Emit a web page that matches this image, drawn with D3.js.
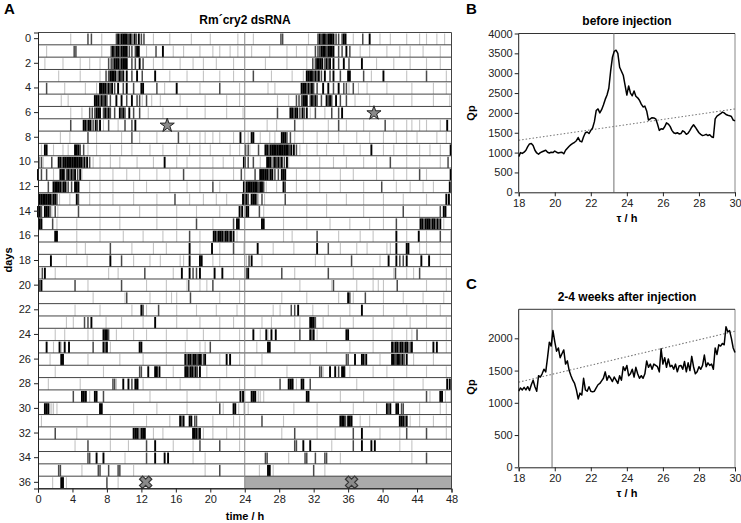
<!DOCTYPE html>
<html><head><meta charset="utf-8">
<script src="https://cdn.jsdelivr.net/npm/d3@7/dist/d3.min.js"></script>
<style>body{margin:0;background:#fff}svg{display:block;font-family:"Liberation Sans",Arial,sans-serif}</style>
</head><body><svg id="c" width="741" height="523"></svg>
<script>
// ---------- DATA ----------
const dayLabels = d3.range(0, 37, 2);
const hourTicks = d3.range(0, 49, 4);
// activity per day: [hour, level] (3 = black, 2 = dark grey, 1 = light grey)
const activity = [
 [[3.8,1],[5.8,2],[6.2,2],[7.4,1],[9.1,2],[9.3,3],[9.5,2],[9.7,3],[9.9,3],[10.1,3],[10.3,3],[10.5,2],[10.7,3],[10.9,2],[11.2,3],[11.4,2],[11.7,3],[12.0,2],[12.3,2],[13.4,1],[15.3,1],[17.8,1],[20.0,1],[23.2,1]],
 [[1.0,1],[4.2,2],[4.4,2],[7.4,1],[8.5,2],[8.7,3],[8.9,2],[9.1,3],[9.3,3],[9.5,2],[9.7,3],[9.9,3],[10.1,3],[10.3,3],[10.6,2],[10.9,2],[11.3,2],[11.5,3],[11.7,3],[12.6,1],[13.7,2],[14.5,3],[15.7,1],[16.9,1],[18.8,1],[20.3,1],[21.1,1],[22.3,1],[23.2,1]],
 [[0.8,1],[2.9,1],[4.9,1],[6.0,1],[7.2,1],[8.2,2],[8.5,2],[8.7,2],[8.9,3],[9.1,3],[9.3,3],[9.5,2],[9.7,3],[9.9,3],[10.1,3],[10.3,3],[10.9,2],[11.3,2],[11.8,3],[12.2,2],[13.4,1],[14.5,1],[16.5,1],[18.0,1],[19.2,1],[20.7,1],[22.7,1]],
 [[2.4,1],[4.9,1],[7.2,1],[7.9,2],[8.2,2],[8.4,3],[8.6,3],[8.8,3],[9.0,3],[9.3,2],[9.5,3],[9.7,2],[9.9,3],[10.3,3],[10.9,2],[11.5,3],[12.1,2],[13.6,3],[15.3,1],[17.3,1],[19.2,1],[21.1,1],[22.7,1]],
 [[1.0,2],[3.1,1],[5.5,1],[6.8,1],[7.2,3],[7.4,3],[7.6,3],[7.8,3],[8.0,2],[8.2,3],[8.4,2],[8.6,3],[8.9,2],[9.3,3],[9.9,2],[10.3,3],[11.1,2],[12.0,3],[12.2,3],[13.8,2],[14.7,1],[16.1,3],[18.8,1],[21.1,2],[23.4,1]],
 [[2.7,1],[3.5,1],[6.6,3],[6.8,3],[7.0,3],[7.2,2],[7.4,3],[7.6,2],[7.8,3],[8.0,2],[8.4,2],[9.1,3],[9.7,3],[10.3,2],[10.9,3],[11.5,2],[11.8,2],[12.1,1],[12.6,2],[13.2,1],[14.2,1],[16.5,1],[19.4,1],[21.9,1],[23.4,1]],
 [[3.8,1],[5.1,1],[6.0,2],[6.3,2],[6.6,2],[6.8,3],[7.0,3],[7.2,3],[7.6,2],[7.8,3],[8.0,2],[8.2,3],[8.4,2],[8.9,2],[9.5,3],[9.7,2],[9.9,3],[10.1,2],[10.6,3],[11.1,2],[11.8,2],[12.8,1],[14.5,1],[17.3,1],[19.4,1],[21.9,1],[23.8,1]],
 [[3.8,2],[5.3,3],[5.5,3],[5.7,2],[5.9,3],[6.1,3],[6.4,2],[6.7,3],[6.9,2],[7.2,3],[7.6,1],[8.2,2],[9.3,1],[10.1,2],[10.9,2],[11.3,3]],
 [[2.6,1],[3.7,1],[5.8,2],[6.8,1],[9.7,1],[10.9,2],[11.8,1],[13.8,1],[16.3,2],[17.3,1],[18.8,1],[19.4,1],[20.3,1],[21.1,1],[22.7,1],[23.5,3]],
 [[0.4,1],[0.8,3],[1.0,3],[1.8,1],[2.9,1],[3.5,1],[4.3,3],[4.5,3],[4.7,3],[4.9,2],[5.3,2],[5.8,1],[6.8,1],[8.4,1],[9.7,1],[10.9,1],[13.0,1],[14.5,1],[16.1,1],[17.6,1],[18.8,1],[20.0,1],[22.3,1],[23.4,1]],
 [[0.1,2],[0.4,2],[0.6,1],[1.6,2],[2.4,3],[2.6,3],[2.8,2],[3.0,3],[3.2,3],[3.4,3],[3.6,3],[3.8,3],[4.0,3],[4.2,3],[4.4,3],[4.6,3],[4.8,3],[5.0,3],[5.2,2],[5.4,3],[5.7,3],[6.0,2],[6.4,1],[7.2,1],[8.4,1],[9.5,1],[11.5,1],[13.4,1],[14.7,3],[16.1,1],[17.3,1],[18.8,1],[20.3,1],[21.5,1],[22.7,1],[23.9,3]],
 [[0.0,3],[0.4,2],[1.0,2],[1.8,1],[2.6,3],[2.8,3],[3.0,3],[3.3,2],[3.5,3],[3.7,2],[3.9,3],[4.1,2],[4.3,3],[4.6,2],[4.9,3],[5.1,1],[7.2,1],[8.7,1],[10.3,1],[11.8,1],[13.8,1],[15.3,1],[16.9,2],[18.8,1],[20.3,1],[22.7,1],[23.6,2]],
 [[1.2,2],[1.8,3],[2.0,3],[2.2,3],[2.4,3],[2.6,3],[2.8,2],[3.0,3],[3.2,3],[3.5,2],[3.9,2],[4.3,3],[4.5,3],[4.7,3],[6.0,1],[7.2,1],[8.7,1],[11.1,1],[12.6,1],[15.3,1],[17.3,1],[18.8,1],[20.3,2],[21.1,1],[23.9,3]],
 [[0.2,3],[0.4,3],[0.6,3],[0.8,3],[1.0,3],[1.2,3],[1.4,3],[1.6,2],[1.8,3],[2.0,3],[2.2,2],[2.5,1],[3.7,1],[4.5,3],[4.7,2],[6.0,1],[7.2,1],[8.7,1],[11.1,1],[13.8,1],[15.9,2],[17.6,1],[19.2,1],[20.7,1],[21.9,1],[23.8,3]],
 [[0.0,3],[0.2,3],[0.4,2],[0.8,3],[1.0,3],[1.2,3],[1.4,2],[1.6,1],[2.0,2],[2.3,1],[4.7,2],[7.2,1],[9.5,1],[11.8,1],[13.8,1],[16.1,1],[18.4,1],[21.1,1],[23.4,3],[23.7,3]],
 [[0.2,3],[0.4,3],[1.7,2],[2.2,1],[4.5,1],[7.2,1],[9.5,1],[13.8,1],[16.1,1],[18.4,2],[20.3,1],[22.7,2],[23.1,3],[23.3,3]],
 [[2.0,3],[2.2,3],[4.5,1],[7.2,1],[9.9,1],[12.2,1],[14.5,1],[16.1,1],[17.6,2],[18.8,1],[20.4,3],[20.6,3],[20.8,2],[21.0,3],[21.2,3],[21.4,3],[21.6,2],[21.8,3],[22.0,3],[22.2,2],[22.4,3],[22.7,3],[23.1,1]],
 [[4.5,1],[5.5,1],[8.4,2],[10.9,1],[13.4,1],[14.9,1],[17.6,3],[18.8,1],[20.2,3],[21.1,1],[22.7,2],[23.9,1]],
 [[1.5,3],[3.3,1],[5.7,1],[8.4,3],[9.7,2],[11.1,1],[13.0,1],[14.2,1],[16.5,1],[16.9,1],[17.6,3],[18.8,3],[19.0,3],[20.3,1],[21.1,1],[22.7,1]],
 [[0.2,1],[0.5,2],[0.8,3],[2.0,1],[8.2,1],[9.3,1],[12.4,2],[15.7,1],[16.7,3],[17.6,3],[18.0,2],[18.4,2],[18.8,3],[20.5,3],[21.4,3],[22.7,1]],
 [[0.2,2],[0.4,3],[4.3,2],[5.8,1],[9.7,2],[12.6,1],[14.9,1],[17.3,1],[17.5,2],[18.8,1],[19.6,1],[20.3,2],[23.4,1]],
 [[6.4,1],[10.1,1],[10.3,2],[13.0,1],[14.9,1],[15.5,1],[16.1,1],[17.7,2],[21.1,1],[23.4,1]],
 [[4.3,1],[7.2,1],[10.9,1],[12.0,3],[12.2,2],[12.6,1],[14.0,2],[16.1,1],[18.4,1],[20.7,1],[23.1,1]],
 [[3.3,1],[4.1,1],[5.4,2],[5.8,2],[6.2,3],[7.9,1],[9.7,1],[12.2,1],[13.6,3],[16.1,1],[18.8,1],[21.1,1],[22.7,1]],
 [[2.0,1],[3.1,1],[5.8,1],[6.4,1],[7.6,3],[7.8,3],[8.0,3],[8.2,2],[9.1,1],[11.1,1],[12.6,1],[14.9,1],[17.3,1],[19.2,1],[21.1,1],[23.4,1]],
 [[1.0,3],[1.8,1],[2.5,3],[2.7,1],[3.1,3],[3.6,3],[6.4,2],[7.6,3],[7.8,2],[8.0,3],[8.4,1],[11.8,3],[12.0,3],[14.9,1],[17.1,1],[18.8,1],[19.4,1],[20.0,2],[23.4,1]],
 [[1.4,1],[2.7,3],[2.9,3],[5.8,1],[9.5,1],[12.2,1],[14.9,1],[17.1,3],[17.3,2],[17.5,3],[17.7,3],[17.9,2],[18.1,3],[18.3,3],[18.5,2],[18.7,3],[18.9,3],[19.2,2],[19.4,3],[21.1,1],[21.9,3],[22.3,3],[23.4,1]],
 [[2.0,1],[7.6,1],[11.8,2],[12.0,2],[12.8,3],[13.6,3],[13.8,3],[14.1,3],[15.7,1],[17.1,3],[17.3,3],[17.5,2],[17.7,3],[17.9,3],[18.1,2],[18.3,3],[18.5,2],[18.8,3],[19.6,1],[21.9,1]],
 [[1.2,1],[4.9,1],[8.7,2],[8.9,2],[9.1,1],[9.9,3],[10.5,3],[10.9,2],[11.3,3],[11.5,3],[11.6,2],[12.2,1],[14.9,1],[16.5,1],[18.8,1],[21.1,1],[23.4,1]],
 [[4.1,2],[5.1,3],[5.3,3],[5.5,3],[5.6,2],[6.0,1],[6.6,3],[6.8,3],[7.6,2],[13.0,1],[17.3,1],[20.7,1],[23.5,3],[23.8,3]],
 [[0.8,3],[1.0,3],[1.2,3],[1.4,1],[1.6,1],[1.8,1],[2.2,1],[7.2,3],[7.4,3],[11.1,1],[13.8,1],[17.3,1],[21.1,2],[21.5,1],[22.7,3],[22.9,3],[23.3,1],[23.9,1]],
 [[0.4,1],[5.7,1],[8.4,1],[12.6,1],[15.3,1],[16.5,3],[16.7,2],[16.9,3],[17.6,3],[17.8,3],[18.2,2],[18.4,2],[20.3,1],[22.7,1],[23.4,1]],
 [[2.0,2],[4.5,1],[8.4,1],[11.1,3],[11.3,3],[11.5,3],[11.7,2],[12.0,3],[12.2,3],[12.4,3],[13.4,1],[14.5,1],[18.0,3],[18.2,3],[18.4,3],[18.6,2],[18.8,3],[19.2,1],[20.3,1],[21.9,1],[23.4,1]],
 [[4.3,1],[5.8,2],[8.4,1],[10.5,1],[12.6,2],[13.6,3],[15.7,1],[18.0,1],[18.8,2],[21.1,2],[23.4,1]],
 [[5.8,2],[6.0,2],[6.8,3],[7.6,3],[10.1,1],[12.6,2],[13.6,3],[14.7,3],[15.1,3],[18.0,1],[19.4,1]],
 [[2.4,2],[2.6,2],[5.1,1],[7.0,2],[7.2,2],[8.2,2],[9.3,2],[9.5,2],[11.1,1],[19.4,1],[21.1,2]],
 [[1.7,1],[2.7,3],[2.9,3],[3.3,1],[8.0,2],[9.3,1]]
];
const stars = [[7, 15.0], [6, 39.0]];      // [row, hour]
const crosses = [[36, 12.5], [36, 36.4]];  // [row, hour]

const tauTicks = d3.range(18, 31, 2);
const qpB = [900,1000,980,1010,1060,1150,1220,1230,1180,1060,990,960,1000,1020,1040,1060,1010,990,1010,1000,
 1040,1010,990,1000,1010,970,1060,1110,1160,1200,1230,1260,1300,1380,1290,1270,1400,1500,1520,1480,
 1560,1620,1780,2060,2100,2000,2080,2200,2340,2450,2620,3050,3400,3550,3580,3500,3150,3050,2950,2700,
 2450,2680,2500,2430,2550,2420,2380,2320,2220,2150,2170,2050,1820,1850,1880,1870,1850,1720,1560,1600,
 1590,1650,1750,1720,1660,1560,1500,1480,1500,1470,1480,1550,1520,1460,1490,1560,1640,1700,1640,1570,
 1500,1460,1430,1440,1460,1430,1450,1400,1380,1850,1920,1950,1980,2020,2000,1960,1940,1930,1910,1820,1800];
const qpC = [1180,1230,1200,1240,1200,1250,1190,1280,1350,1250,1180,1420,1400,1450,1520,1480,1700,1940,1880,2120,
 1950,1800,1850,1700,1760,1820,1600,1650,1500,1420,1350,1300,1200,1060,1150,1120,1380,1200,1180,1250,
 1180,1170,1180,1230,1280,1300,1340,1380,1480,1350,1420,1380,1330,1400,1350,1300,1420,1350,1560,1500,
 1580,1420,1450,1520,1400,1550,1450,1380,1420,1380,1450,1650,1550,1600,1520,1600,1580,1560,1480,1840,
 1600,1700,1550,1680,1560,1580,1520,1600,1480,1570,1580,1520,1640,1480,1620,1500,1720,1560,1450,1480,
 1560,1520,1580,1740,1560,1620,1580,1600,1520,1850,1750,1900,1880,1920,1900,2180,2100,2120,2000,1850,1780];
const taus = d3.range(121).map(i => 18 + i * 0.1);
const peakB = 23.28, peakC = 19.85;
const trendB = [[18, 1310], [30, 2100]];
const trendC = [[18, 1320], [30, 2110]];
const qpTicksB = d3.range(0, 4001, 500);
const qpTicksC = d3.range(0, 2001, 500);

// ---------- DRAW ----------
const svg = d3.select("#c");
const FS = 11;
const FONT = "Liberation Sans, Arial, sans-serif";

// Panel A
const x = d3.scaleLinear().domain([0, 48]).range([38, 451.5]);
const y = d3.scaleBand().domain(d3.range(37)).range([32.5, 488.5]);
const bw = y.bandwidth();
const levelColor = {3: "#000", 2: "#4a4a4a", 1: "#c4c4c4"};
const levelWidth = {3: 1.9, 2: 1.5, 1: 1.1};
const A = svg.append("g");

// gray no-data block
A.append("rect").attr("x", x(24)).attr("y", y(36)).attr("width", x(48) - x(24)).attr("height", bw).attr("fill", "#aaa");

const bars = [];
d3.range(37).forEach(r => {
  activity[r].forEach(([h, l]) => bars.push({r, h, l}));
  if (r + 1 < activity.length) activity[r + 1].forEach(([h, l]) => bars.push({r, h: h + 24, l}));
});
bars.sort((a, b) => a.l - b.l);
A.selectAll("rect.bar").data(bars).join("rect").attr("class", "bar")
  .attr("x", d => x(d.h) - levelWidth[d.l] / 2).attr("width", d => levelWidth[d.l])
  .attr("y", d => y(d.r) + 1).attr("height", bw - 1)
  .attr("fill", d => levelColor[d.l]);

// row lines
A.selectAll("line.row").data(d3.range(38)).join("line")
  .attr("x1", x(0)).attr("x2", x(48))
  .attr("y1", d => d < 37 ? y(d) : y(36) + bw).attr("y2", d => d < 37 ? y(d) : y(36) + bw)
  .attr("stroke", "#444").attr("stroke-width", 1);
A.append("line").attr("x1", x(24)).attr("x2", x(24)).attr("y1", y(0)).attr("y2", y(36) + bw)
  .attr("stroke", "#888").attr("stroke-width", 1);
A.append("line").attr("x1", x(48)).attr("x2", x(48)).attr("y1", y(0)).attr("y2", y(36) + bw)
  .attr("stroke", "#444").attr("stroke-width", 1);

// symbols
A.selectAll("path.star").data(stars).join("path")
  .attr("d", d3.symbol(d3.symbolStar, 62))
  .attr("transform", d => `translate(${x(d[1])},${y(d[0]) + bw / 2 + 0.5})`)
  .attr("fill", "#8a8a8a").attr("stroke", "#222").attr("stroke-width", 1);
A.selectAll("path.cross").data(crosses).join("path")
  .attr("d", d3.symbol(d3.symbolCross, 95))
  .attr("transform", d => `translate(${x(d[1])},${y(d[0]) + bw / 2}) rotate(45)`)
  .attr("fill", "#8a8a8a").attr("stroke", "#333").attr("stroke-width", 1.2);

// axes A
const axA = A.append("g").attr("transform", `translate(0,${y(36) + bw})`)
  .call(d3.axisBottom(x).tickValues(hourTicks).tickSizeOuter(0).tickSize(4).tickPadding(3));
const ayA = A.append("g").attr("transform", `translate(${x(0)},0)`)
  .call(d3.axisLeft(y).tickValues(dayLabels).tickSizeOuter(0).tickSize(4).tickPadding(3));
[axA, ayA].forEach(g => {
  g.selectAll("text").attr("font-size", FS).attr("fill", "#222").attr("font-family", FONT);
  g.select(".domain").attr("stroke", "#222");
  g.selectAll(".tick line").attr("stroke", "#222");
});
A.append("text").attr("x", 245).attr("y", 24).attr("text-anchor", "middle").attr("font-weight", "bold").attr("font-size", 12).text("Rm´cry2 dsRNA");
A.append("text").attr("x", 4).attr("y", 14).attr("font-weight", "bold").attr("font-size", 15).text("A");
A.append("text").attr("transform", "translate(12,260) rotate(-90)").attr("text-anchor", "middle").attr("font-weight", "bold").attr("font-size", 11).text("days");
A.append("text").attr("x", 245).attr("y", 520).attr("text-anchor", "middle").attr("font-weight", "bold").attr("font-size", 11).text("time / h");

// Periodogram panels
function periodogram(cfg) {
  const g = svg.append("g");
  const px = d3.scaleLinear().domain([18, 30]).range([518.7, 735]);
  const py = d3.scaleLinear().domain(cfg.ydom).range([cfg.y0, cfg.y1]);
  g.append("line").attr("x1", px(30)).attr("x2", px(30)).attr("y1", cfg.y1).attr("y2", cfg.y0).attr("stroke", "#888");
  g.append("line").attr("x1", px(18)).attr("x2", px(30)).attr("y1", cfg.y1).attr("y2", cfg.y1).attr("stroke", "#333");
  g.append("line").attr("x1", px(cfg.peak)).attr("x2", px(cfg.peak)).attr("y1", cfg.y1).attr("y2", cfg.y0).attr("stroke", "#888").attr("stroke-width", 1.2);
  g.append("path").datum(cfg.trend).attr("d", d3.line().x(d => px(d[0])).y(d => py(d[1])))
    .attr("fill", "none").attr("stroke", "#777").attr("stroke-width", 1.1).attr("stroke-dasharray", "1.5,2");
  g.append("path").datum(cfg.values).attr("d", d3.line().x((d, i) => px(taus[i])).y(d => py(d)))
    .attr("fill", "none").attr("stroke", "#000").attr("stroke-width", 1.5).attr("stroke-linejoin", "round");
  const ax = g.append("g").attr("transform", `translate(0,${cfg.y0})`)
    .call(d3.axisBottom(px).tickValues(tauTicks).tickSizeOuter(0).tickSize(4).tickPadding(3));
  const ay = g.append("g").attr("transform", `translate(${px(18)},0)`)
    .call(d3.axisLeft(py).tickValues(cfg.ticks).tickFormat(d3.format("d")).tickSizeOuter(0).tickSize(4).tickPadding(2));
  ay.select(".domain").attr("d", `M0,${cfg.y0}V${cfg.y1}`);
  [ax, ay].forEach(a => {
    a.selectAll("text").attr("font-size", FS).attr("fill", "#222").attr("font-family", FONT);
    a.select(".domain").attr("stroke", "#222");
    a.selectAll(".tick line").attr("stroke", "#222");
  });
  g.append("text").attr("x", 627).attr("y", cfg.titleY).attr("text-anchor", "middle").attr("font-weight", "bold").attr("font-size", 12).text(cfg.title);
  g.append("text").attr("x", 466).attr("y", cfg.letterY).attr("font-weight", "bold").attr("font-size", 15).text(cfg.letter);
  g.append("text").attr("transform", `translate(475,${cfg.qpY}) rotate(-90)`).attr("text-anchor", "middle").attr("font-weight", "bold").attr("font-size", 11).text("Qp");
  g.append("text").attr("x", 627).attr("y", cfg.y0 + 30).attr("text-anchor", "middle").attr("font-weight", "bold").attr("font-size", 11).text("τ / h");
}
periodogram({values: qpB, ydom: [0, 4000], y0: 192.3, y1: 33.5, ticks: qpTicksB, peak: peakB, trend: trendB,
  title: "before injection", titleY: 25, letter: "B", letterY: 14, qpY: 113});
periodogram({values: qpC, ydom: [0, 2450], y0: 467.3, y1: 309.3, ticks: qpTicksC, peak: peakC, trend: trendC,
  title: "2-4 weeks after injection", titleY: 301, letter: "C", letterY: 289, qpY: 387});
</script></body></html>
